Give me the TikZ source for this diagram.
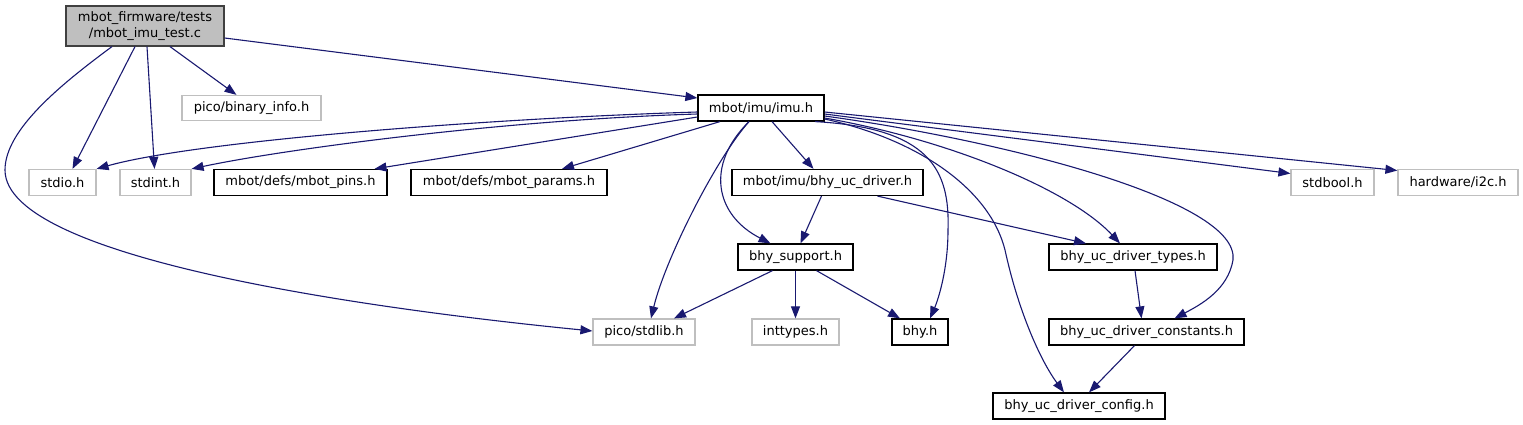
\documentclass[tikz,border=0pt]{standalone}
\usepackage{fontspec}
\setmainfont{DejaVu Sans}
\usetikzlibrary{arrows.meta}
\definecolor{edgecol}{HTML}{191970}
\definecolor{lightgrey}{HTML}{BFBFBF}
\definecolor{rootborder}{HTML}{404040}
\tikzset{
  fbox/.style={draw=black, rectangle, inner sep=0pt, minimum height=26pt, line width=1.2pt, font=\fontsize{13}{15}\selectfont, text=black},
  gbox/.style={fbox, draw=lightgrey},
  rootbox/.style={fbox, draw=rootborder, fill=lightgrey, align=center, minimum height=40pt, font=\fontsize{13}{16}\selectfont},
  dep/.style={draw=edgecol, line width=1.1pt, -{Triangle[length=12pt,width=9pt,fill=edgecol]}},
}
\begin{document}
\begin{tikzpicture}[x=1pt,y=-1pt]
\useasboundingbox (0,0) rectangle (1523,425);
% nodes
\node[rootbox, minimum width=158pt] (root) at (145,26) {mbot\_firmware/tests\\/mbot\_imu\_test.c};
\node[fbox, minimum width=126pt] (imu) at (761,108) {mbot/imu/imu.h};
\node[gbox, minimum width=139pt, minimum height=25pt] (bin) at (251.5,108) {pico/binary\_info.h};
\node[gbox, minimum width=67pt] (stdio) at (62.5,182.5) {stdio.h};
\node[gbox, minimum width=71pt] (stdint) at (155.5,182.5) {stdint.h};
\node[fbox, minimum width=173pt] (pins) at (300.5,182.5) {mbot/defs/mbot\_pins.h};
\node[fbox, minimum width=196pt] (params) at (509,182.5) {mbot/defs/mbot\_params.h};
\node[fbox, minimum width=191pt] (bhyucd) at (827.5,182.5) {mbot/imu/bhy\_uc\_driver.h};
\node[gbox, minimum width=83pt] (stdbool) at (1332.5,182.5) {stdbool.h};
\node[gbox, minimum width=120pt] (i2c) at (1458,182.5) {hardware/i2c.h};
\node[fbox, minimum width=115pt] (bhysup) at (795.5,257) {bhy\_support.h};
\node[fbox, minimum width=168pt] (types) at (1133,257) {bhy\_uc\_driver\_types.h};
\node[gbox, minimum width=102pt] (stdlib) at (644,332) {pico/stdlib.h};
\node[gbox, minimum width=87pt] (inttypes) at (795.5,332) {inttypes.h};
\node[fbox, minimum width=56pt] (bhy) at (920,332) {bhy.h};
\node[fbox, minimum width=195pt] (constants) at (1146.5,332) {bhy\_uc\_driver\_constants.h};
\node[fbox, minimum width=172pt] (config) at (1079,406) {bhy\_uc\_driver\_config.h};
% edges from root
\draw[dep] ([yshift=-12pt]root.east) -- ([yshift=10pt]imu.west);
\draw[dep] ([xshift=25pt]root.south) -- ([xshift=-15pt]bin.north);
\draw[dep] ([xshift=-10pt]root.south) -- ([xshift=10pt]stdio.north);
\draw[dep] ([xshift=2pt]root.south) -- ([xshift=-1pt]stdint.north);
\draw[dep] ([xshift=-33pt]root.south) .. controls (60,85) and (5,130) .. (5,170)
  .. controls (5,260) and (380,310) .. ([yshift=1pt]stdlib.west);
% edges from imu
\draw[dep] ([yshift=-4pt]imu.west) .. controls (500,118) and (200,140) .. (stdio.north east);
\draw[dep] ([yshift=-6pt]imu.west) .. controls (500,120) and (280,150) .. (stdint.north east);
\draw[dep] ([yshift=-9pt]imu.west) -- ([xshift=74pt]pins.north);
\draw[dep] ([xshift=-41pt]imu.south) -- ([xshift=53pt]params.north);
\draw[dep] ([xshift=11pt]imu.south) -- ([xshift=-14pt]bhyucd.north);
\draw[dep] ([xshift=-12pt]imu.south) .. controls (705,165) and (715,215) .. ([xshift=-25pt]bhysup.north);
\draw[dep] ([xshift=-12pt]imu.south) .. controls (715,160) and (665,260) .. ([xshift=7pt]stdlib.north);
\draw[dep] ([xshift=54pt]imu.south) .. controls (930,128) and (950,170) .. (948,230)
  .. controls (948,270) and (938,300) .. ([xshift=10pt]bhy.north);
\draw[dep] ([yshift=-11pt]imu.east) .. controls (920,140) and (990,190) .. (1005,250)
  .. controls (1018,310) and (1040,360) .. ([xshift=-15pt]config.north);
\draw[dep] ([yshift=-10pt]imu.east) .. controls (950,140) and (1070,190) .. ([xshift=-13pt]types.north);
\draw[dep] ([yshift=-8pt]imu.east) .. controls (1000,140) and (1240,200) .. (1233,260)
  .. controls (1228,290) and (1200,305) .. ([xshift=28pt]constants.north);
\draw[dep] ([yshift=-6pt]imu.east) -- ([yshift=9pt]stdbool.west);
\draw[dep] ([yshift=-4pt]imu.east) -- ([yshift=12pt]i2c.west);
% other edges
\draw[dep] ([xshift=-6pt]bhyucd.south) -- ([xshift=5pt]bhysup.north);
\draw[dep] ([xshift=50pt]bhyucd.south) -- ([xshift=-47pt]types.north);
\draw[dep] ([xshift=-23pt]bhysup.south) -- ([xshift=30pt]stdlib.north);
\draw[dep] (bhysup.south) -- (inttypes.north);
\draw[dep] ([xshift=21pt]bhysup.south) -- ([xshift=-20pt]bhy.north);
\draw[dep] ([xshift=2pt]types.south) -- ([xshift=-5pt]constants.north);
\draw[dep] ([xshift=-12pt]constants.south) -- ([xshift=10pt]config.north);
\end{tikzpicture}
\end{document}
